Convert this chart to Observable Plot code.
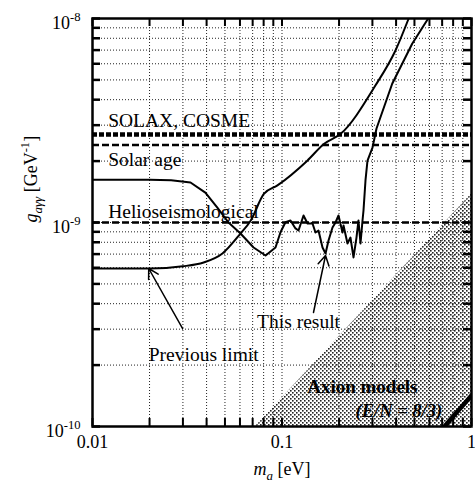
<!DOCTYPE html>
<html><head><meta charset="utf-8">
<script src="https://cdn.jsdelivr.net/npm/d3@7"></script>
<script src="https://cdn.jsdelivr.net/npm/@observablehq/plot@0.6"></script>
<style>body{margin:0;background:#fff} svg{display:block}</style>
</head><body><div id="chart"></div>
<script>
// ---- data ----
const previousLimitM = [0.01, 0.02, 0.03, 0.0386, 0.0485, 0.0604, 0.0683, 0.0802, 0.0946, 0.136, 0.167, 0.204, 0.311, 0.397, 0.466];
const previousLimitG = [5.95e-10, 5.95e-10, 6.1e-10, 6.37e-10, 7.05e-10, 8.83e-10, 1.02e-9, 1.38e-9, 1.52e-9, 2.01e-9, 2.43e-9, 2.72e-9, 4.69e-9, 6.97e-9, 1.0e-8];

const thisResultM = [0.01, 0.02, 0.026, 0.0329, 0.0394, 0.0457, 0.0522, 0.0604, 0.0708, 0.0819, 0.0924, 0.0982, 0.1043, 0.1109, 0.1178, 0.1222, 0.1299, 0.1364, 0.1449, 0.1502, 0.1558, 0.1636, 0.1697, 0.176, 0.1847, 0.1916, 0.1987, 0.2086, 0.2112, 0.2216, 0.2298, 0.2384, 0.2472, 0.2533, 0.2596, 0.266, 0.2692, 0.2758, 0.2826, 0.3003, 0.3153, 0.3815, 0.4864, 0.5908];
const thisResultG = [1.62e-9, 1.62e-9, 1.61e-9, 1.57e-9, 1.40e-9, 1.18e-9, 1.0e-9, 8.83e-10, 7.54e-10, 6.89e-10, 7.54e-10, 8.96e-10, 1.003e-9, 1.023e-9, 9.35e-10, 9.14e-10, 1.082e-9, 9.89e-10, 9.89e-10, 8.93e-10, 9.14e-10, 7.54e-10, 7.05e-10, 8.16e-10, 9.45e-10, 1.0e-9, 1.082e-9, 8.93e-10, 9.67e-10, 7.89e-10, 8.44e-10, 6.74e-10, 8.44e-10, 1.023e-9, 7.89e-10, 1.023e-9, 1.145e-9, 1.607e-9, 2.013e-9, 2.33e-9, 2.89e-9, 4.79e-9, 7.52e-9, 1.0e-8];

const solaxCosmeG = 2.7e-9;
const solarAgeG = 2.4e-9;
const helioseismologicalG = 1.0e-9;

// axion model region (upper boundary) and E/N = 8/3 line
const axionBandM = [0.0725, 1];
const axionBandG = [1.0e-10, 1.38e-9];
const axionLineM = [0.72, 1];
const axionLineG = [1.0e-10, 1.42e-10];

// annotations
const labelText = ["SOLAX, COSME", "Solar age", "Helioseismological", "Previous limit", "This result"];
const labelM = [0.0121, 0.0121, 0.0121, 0.0198, 0.0739];
const labelG = [3.15e-9, 2.03e-9, 1.135e-9, 2.25e-10, 3.27e-10];
const axionLabelText = ["Axion models"];
const axionLabelM = [0.1358];
const axionLabelG = [1.57e-10];
const axionSubText = ["(E/N = 8/3)"];
const axionSubM = [0.2443];
const axionSubG = [1.186e-10];

const arrowFromM = [0.0299, 0.1466];
const arrowFromG = [3.02e-10, 3.62e-10];
const arrowToM = [0.0198, 0.1697];
const arrowToG = [5.95e-10, 6.89e-10];

// ticks
const xGridTicks = [0.01,0.02,0.03,0.04,0.05,0.06,0.07,0.08,0.09,0.1,0.2,0.3,0.4,0.5,0.6,0.7,0.8,0.9,1];
const yGridTicks = [1e-10,2e-10,3e-10,4e-10,5e-10,6e-10,7e-10,8e-10,9e-10,1e-9,2e-9,3e-9,4e-9,5e-9,6e-9,7e-9,8e-9,9e-9,1e-8];
const xTickValues = [0.01, 0.1, 1];
const xTickLabels = ["0.01", "0.1", "1"];
const yTickValues = [1e-10, 1e-9, 1e-8];
const yTickLabels = ["10^{-10}", "10^{-9}", "10^{-8}"];
const xAxisLabel = "*m*_{a} [eV]";
const yAxisLabel = "*g*_{aγγ} [GeV^{-1}]";

// ---- build tables ----
const previousLimit = previousLimitM.map((m, i) => ({m, g: previousLimitG[i]}));
const thisResult = thisResultM.map((m, i) => ({m, g: thisResultG[i]}));
const axionBand = axionBandM.map((m, i) => ({m, g: axionBandG[i]}));
const axionLine = axionLineM.map((m, i) => ({m, g: axionLineG[i]}));
const labels = labelText.map((t, i) => ({t, m: labelM[i], g: labelG[i]}));
const axionLabels = axionLabelText.map((t, i) => ({t, m: axionLabelM[i], g: axionLabelG[i]}));
const axionSub = axionSubText.map((t, i) => ({t, m: axionSubM[i], g: axionSubG[i]}));
const arrows = arrowFromM.map((m, i) => ({m1: m, g1: arrowFromG[i], m2: arrowToM[i], g2: arrowToG[i]}));

const FONT = "Liberation Serif, Times New Roman, serif";
const W = 475, H = 486, ML = 92, MR = 4, MT = 18, MB = 60;
const plotW = W - ML - MR, plotH = H - MT - MB;
const TICK = 8;

const chart = Plot.plot({
  width: W, height: H,
  marginLeft: ML, marginRight: MR, marginTop: MT, marginBottom: MB,
  x: {type: "log", domain: [0.01, 1], axis: null},
  y: {type: "log", domain: [1e-10, 1e-8], axis: null},
  style: {fontFamily: FONT, fontSize: "18px", background: "white", color: "black"},
  marks: [
    Plot.areaY(axionBand, {x: "m", y1: 1e-10, y2: "g", fill: "url(#stipple)", clip: true}),
    Plot.ruleX(xGridTicks, {x: d => d, stroke: "#222", strokeWidth: 1, strokeDasharray: "1,2"}),
    Plot.ruleY(yGridTicks, {y: d => d, stroke: "#222", strokeWidth: 1, strokeDasharray: "1,2"}),
    Plot.ruleY([solaxCosmeG], {y: d => d, stroke: "black", strokeWidth: 4.5, strokeDasharray: "5,2"}),
    Plot.ruleY([solarAgeG], {y: d => d, stroke: "black", strokeWidth: 2.5, strokeDasharray: "7,3"}),
    Plot.ruleY([helioseismologicalG], {y: d => d, stroke: "black", strokeWidth: 2.5, strokeDasharray: "7,3"}),
    Plot.line(previousLimit, {x: "m", y: "g", stroke: "black", strokeWidth: 2, curve: "monotone-x", clip: true}),
    Plot.line(thisResult, {x: "m", y: "g", stroke: "black", strokeWidth: 2, curve: "linear", clip: true}),
    Plot.line(axionLine, {x: "m", y: "g", stroke: "black", strokeWidth: 4.5, clip: true}),
    Plot.arrow(arrows, {x1: "m1", y1: "g1", x2: "m2", y2: "g2", stroke: "black", strokeWidth: 1.5, headLength: 11}),
    Plot.text(labels, {x: "m", y: "g", text: "t", textAnchor: "start", fontSize: 19.5, fill: "black"}),
    Plot.text(axionLabels, {x: "m", y: "g", text: "t", textAnchor: "start", fontSize: 19, fontWeight: "bold", fill: "black"}),
    Plot.text(axionSub, {x: "m", y: "g", text: "t", textAnchor: "start", fontSize: 18.5, fontWeight: "bold", fontStyle: "italic", fill: "black"}),
    Plot.tickX(xGridTicks, {x: d => d, insetTop: plotH - TICK, stroke: "black", strokeWidth: 2}),
    Plot.tickX(xGridTicks, {x: d => d, insetBottom: plotH - TICK, stroke: "black", strokeWidth: 2}),
    Plot.tickY(yGridTicks, {y: d => d, insetRight: plotW - TICK, stroke: "black", strokeWidth: 2.5}),
    Plot.tickY(yGridTicks, {y: d => d, insetLeft: plotW - TICK, stroke: "black", strokeWidth: 2.5}),
    Plot.frame({stroke: "black", strokeWidth: 2.5}),
    Plot.text(xTickValues, {x: d => d, text: (d, i) => xTickLabels[i], frameAnchor: "bottom", dy: 21.5, fontSize: 18, fill: "black"}),
    Plot.text(yTickValues, {y: d => d, text: (d, i) => yTickLabels[i], frameAnchor: "left", dx: -12, dy: 4.5, textAnchor: "end", fontSize: 18, fill: "black"}),
    Plot.text([xAxisLabel], {text: d => d, frameAnchor: "bottom", dy: 48, fontSize: 18, fill: "black"}),
    Plot.text([yAxisLabel], {text: d => d, frameAnchor: "left", dx: -61, rotate: -90, fontSize: 18, fill: "black"})
  ]
});

// stipple pattern for the axion-model region
const svg = d3.select(chart.tagName.toLowerCase() === "svg" ? chart : chart.querySelector("svg"));
const defs = svg.insert("defs", ":first-child");
const pat = defs.append("pattern").attr("id", "stipple").attr("patternUnits", "userSpaceOnUse").attr("width", 4).attr("height", 4);
pat.append("rect").attr("width", 4).attr("height", 4).attr("fill", "white");
pat.append("rect").attr("x", 0).attr("y", 0).attr("width", 1.6).attr("height", 1.6).attr("fill", "#222");
pat.append("rect").attr("x", 2).attr("y", 2).attr("width", 1.6).attr("height", 1.6).attr("fill", "#222");

// rich text: *italic*, _{sub}, ^{sup}
svg.selectAll("text").each(function () {
  const s = this.textContent;
  if (!/[_^*]/.test(s)) return;
  const fs = parseFloat(this.getAttribute("font-size")) || 18;
  const parts = s.split(/(\*[^*]+\*|_\{[^}]*\}|\^\{[^}]*\})/).filter(p => p);
  const el = d3.select(this);
  el.text(null);
  for (const p of parts) {
    const t = el.append("tspan");
    if (p.startsWith("*")) t.attr("font-style", "italic").text(p.slice(1, -1));
    else if (p.startsWith("_{")) t.attr("font-style", "italic").attr("font-size", (fs * 0.72) + "px").attr("baseline-shift", (-0.28 * fs) + "px").text(p.slice(2, -1));
    else if (p.startsWith("^{")) t.attr("font-size", (fs * 0.7) + "px").attr("baseline-shift", (0.42 * fs) + "px").text(p.slice(2, -1));
    else t.text(p);
  }
});

document.getElementById("chart").appendChild(chart);
</script>
</body></html>
